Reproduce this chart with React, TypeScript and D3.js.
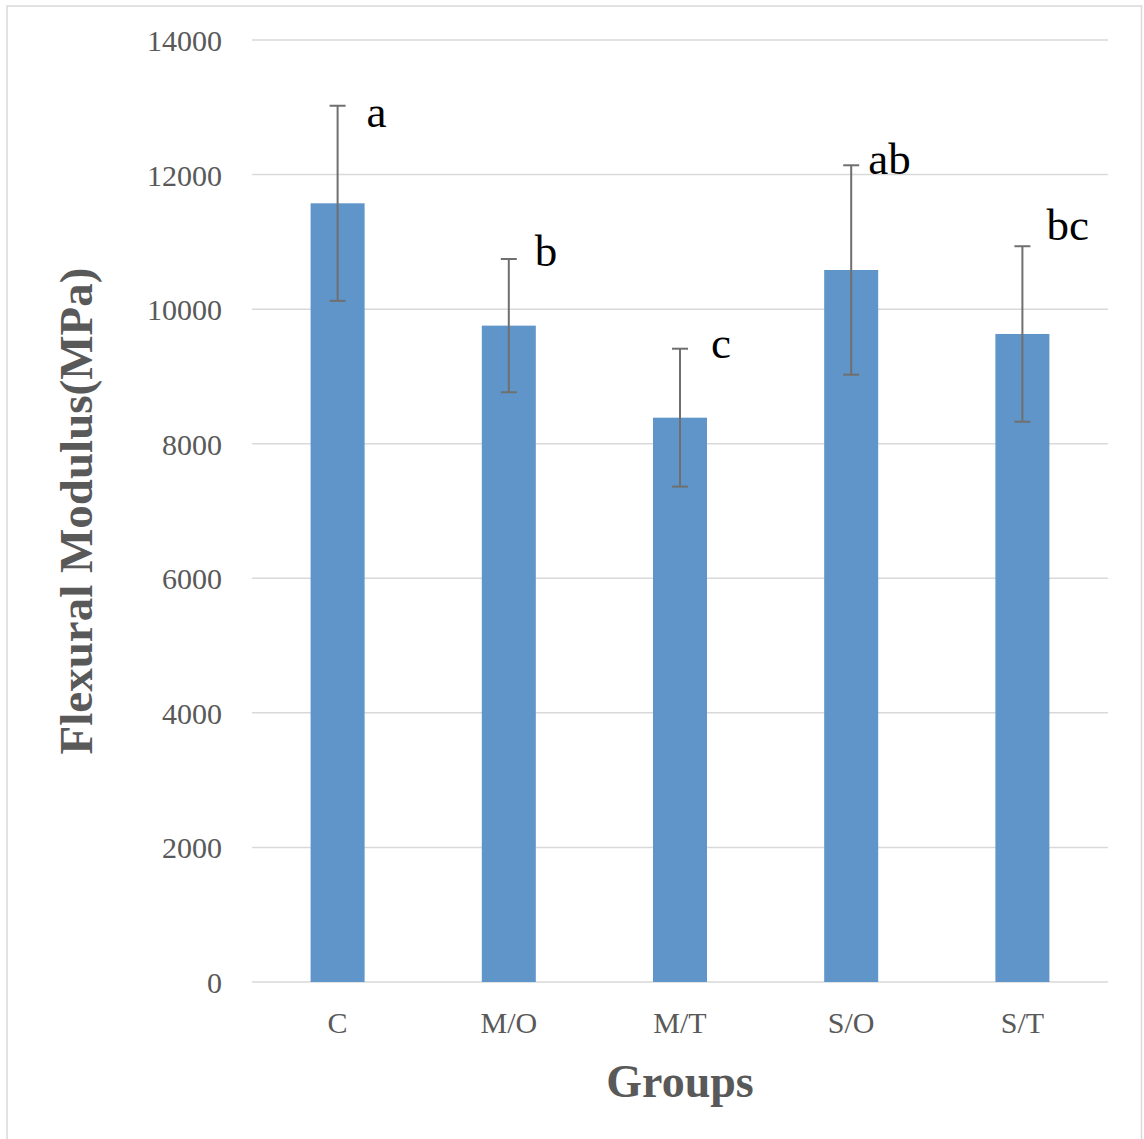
import React from "react";
import * as d3 from "d3";

const categories = ["C", "M/O", "M/T", "S/O", "S/T"];
const means = [11573, 9755, 8387, 10582, 9631];
const errors = [1450, 990, 1025, 1556, 1304];
const letters = ["a", "b", "c", "ab", "bc"];
const letterDx = [29, 26, 31, 17, 24];
const letterDy = [21, 7, 9, 9, -6];
const yTicks = [0, 2000, 4000, 6000, 8000, 10000, 12000, 14000];

const W = 1144;
const H = 1139;
const left = 252;
const right = 1108;
const top = 40;
const bottom = 982;
const font = "'Times New Roman', 'Liberation Serif', serif";
const textColor = "#595959";

export default function App() {
  const x = d3.scaleBand<string>().domain(categories).range([left, right]).paddingInner(0).paddingOuter(0);
  const y = d3.scaleLinear().domain([0, 14000]).range([bottom, top]);
  const barW = 54;
  const capW = 16;

  return (
    <svg
      width={W}
      height={H}
      style={{ position: "absolute", left: 0, top: 0, background: "#fff" }}
    >
      <rect x={7} y={6} width={1134.5} height={1140} fill="#fff" stroke="#d9d9d9" strokeWidth={1.5} />
      {yTicks.map((t) => (
        <g key={t}>
          <line x1={left} x2={right} y1={y(t)} y2={y(t)} stroke="#d9d9d9" strokeWidth={1.5} />
          <text
            x={222}
            y={y(t) + 11}
            textAnchor="end"
            fontFamily={font}
            fontSize={30}
            fill={textColor}
          >
            {t}
          </text>
        </g>
      ))}
      {categories.map((c, i) => {
        const cx = (x(c) as number) + x.bandwidth() / 2;
        const v = means[i];
        const e = errors[i];
        return (
          <g key={c}>
            <rect x={cx - barW / 2} y={y(v)} width={barW} height={y(0) - y(v)} fill="#6095c9" />
            <line x1={cx} x2={cx} y1={y(v + e)} y2={y(v - e)} stroke="#6f6f6f" strokeWidth={2} />
            <line x1={cx - capW / 2} x2={cx + capW / 2} y1={y(v + e)} y2={y(v + e)} stroke="#6f6f6f" strokeWidth={2} />
            <line x1={cx - capW / 2} x2={cx + capW / 2} y1={y(v - e)} y2={y(v - e)} stroke="#6f6f6f" strokeWidth={2} />
            <text
              x={cx + letterDx[i]}
              y={y(v + e) + letterDy[i]}
              fontFamily={font}
              fontSize={45}
              fill="#000"
            >
              {letters[i]}
            </text>
            <text
              x={cx}
              y={1033}
              textAnchor="middle"
              fontFamily={font}
              fontSize={30}
              fill={textColor}
            >
              {c}
            </text>
          </g>
        );
      })}
      <text
        x={(left + right) / 2}
        y={1097}
        textAnchor="middle"
        fontFamily={font}
        fontSize={46}
        fontWeight="bold"
        fill={textColor}
      >
        Groups
      </text>
      <text
        transform={`translate(92, ${(top + bottom) / 2}) rotate(-90)`}
        textAnchor="middle"
        fontFamily={font}
        fontSize={47}
        fontWeight="bold"
        fill={textColor}
      >
        Flexural Modulus(MPa)
      </text>
    </svg>
  );
}
